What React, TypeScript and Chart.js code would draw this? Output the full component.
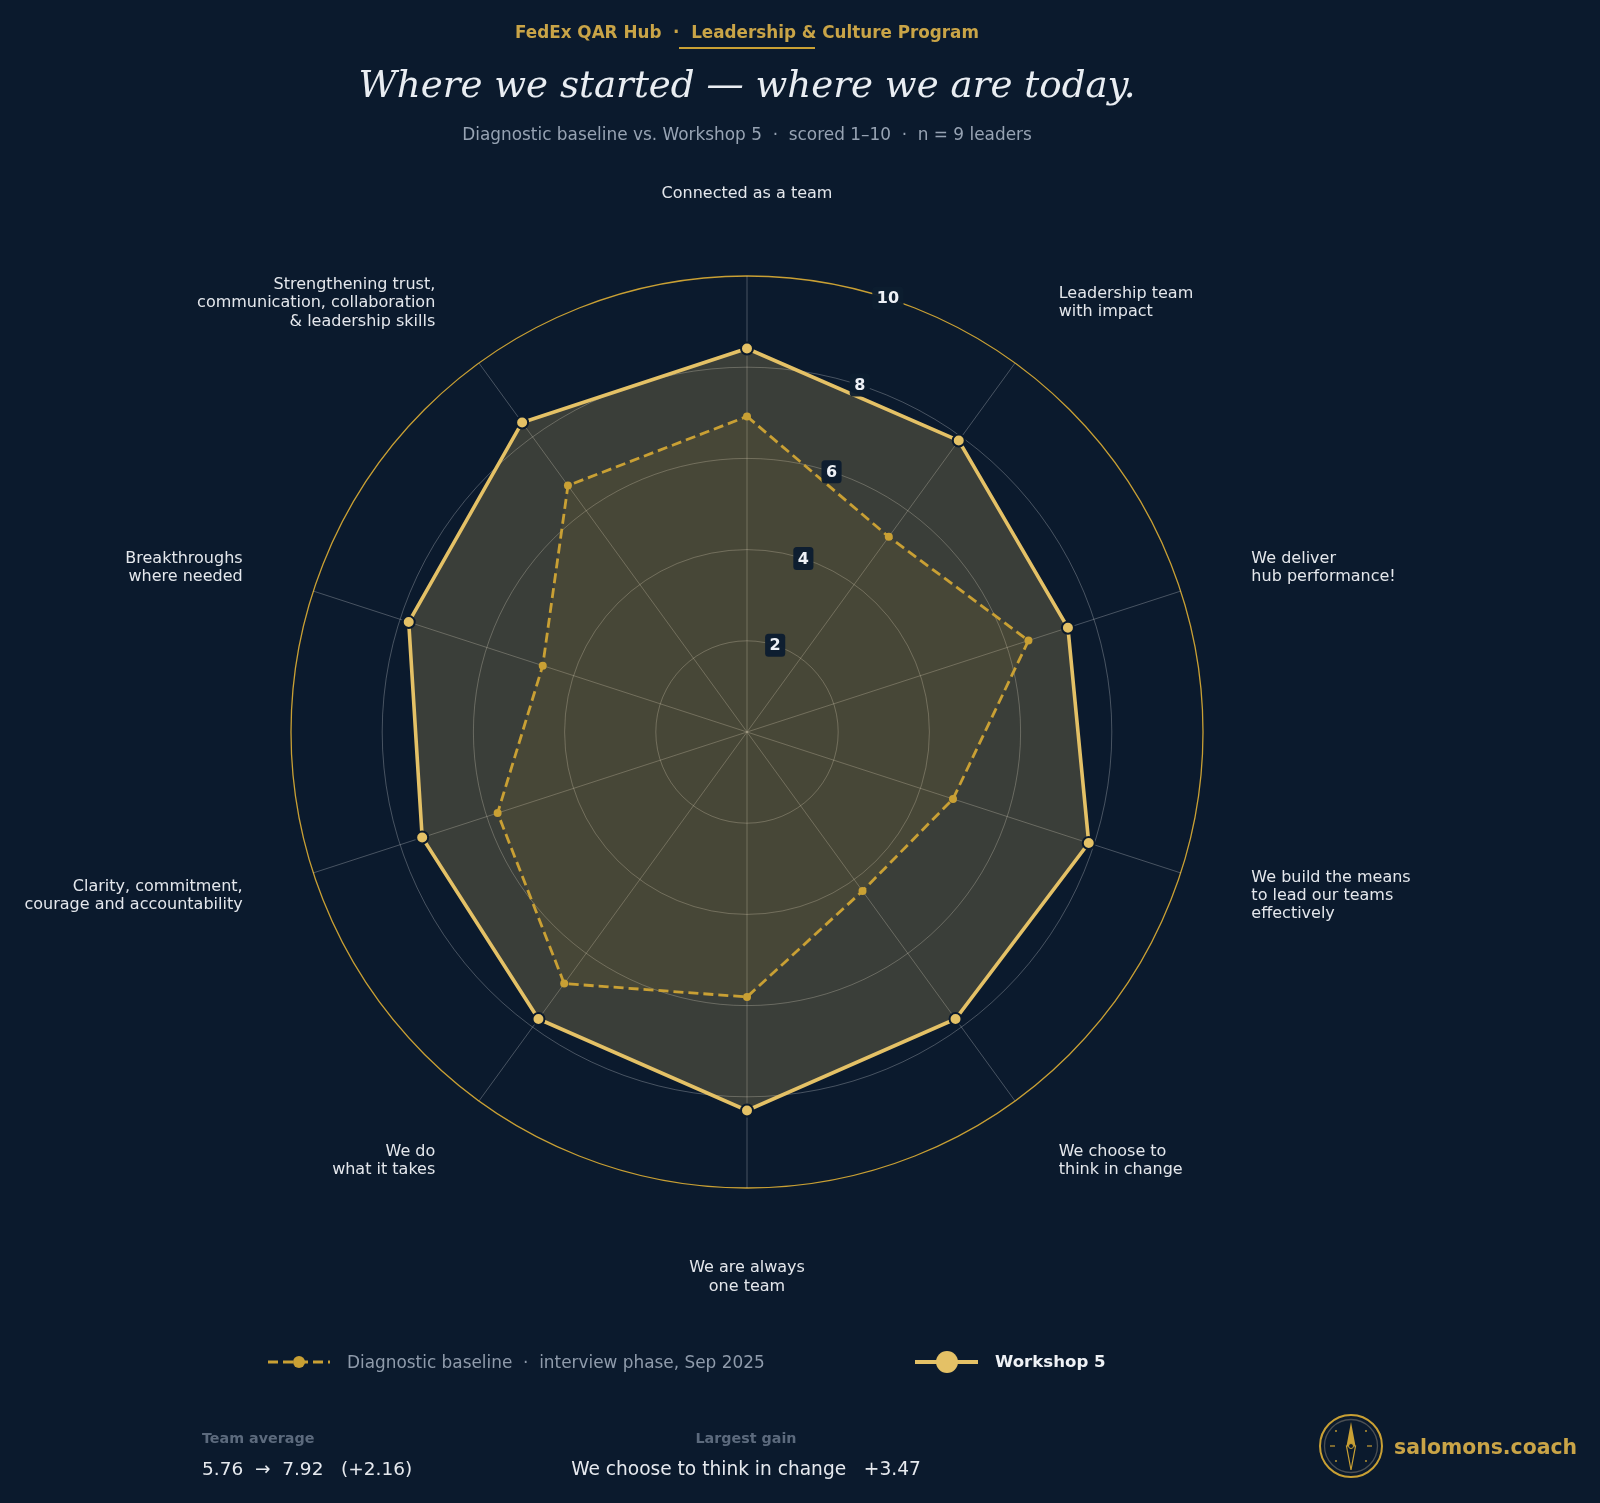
import React, { useEffect, useRef } from 'react';
import { Chart, registerables } from 'chart.js';

Chart.register(...registerables);

const BG = '#0b1a2d';
const GOLD = '#c9a034';
const GOLD_LIGHT = '#e4c166';
const FONT = '"DejaVu Sans", "Noto Sans", sans-serif';

const categories: (string | string[])[] = [
  'Connected as a team',
  ['Leadership team', 'with impact'],
  ['We deliver', 'hub performance!'],
  ['We build the means', 'to lead our teams', 'effectively'],
  ['We choose to', 'think in change'],
  ['We are always', 'one team'],
  ['We do', 'what it takes'],
  ['Clarity, commitment,', 'courage and accountability'],
  ['Breakthroughs', 'where needed'],
  ['Strengthening trust,', 'communication, collaboration', '& leadership skills'],
];

const baselineScores = [6.92, 5.29, 6.49, 4.75, 4.31, 5.81, 6.82, 5.75, 4.71, 6.68];
const workshopScores = [8.41, 7.9, 7.4, 7.88, 7.78, 8.3, 7.78, 7.49, 7.8, 8.39];
const tickValues = [2, 4, 6, 8, 10];

const seriesNames = ['Diagnostic baseline  ·  interview phase, Sep 2025', 'Workshop 5'];

const axisLabelPlugin = {
  id: 'axisLabelPlugin',
  afterDatasetsDraw(chart: any) {
    const scale = chart.scales.r;
    const ctx = chart.ctx as CanvasRenderingContext2D;
    const R = scale.drawingArea;
    const n = chart.data.labels.length;
    ctx.save();
    // tick labels with backdrops along the bisector of the first two axes
    ctx.font = 'bold 16px ' + FONT;
    ctx.textAlign = 'center';
    ctx.textBaseline = 'middle';
    const theta = Math.PI / n;
    tickValues.forEach((v) => {
      const d = scale.getDistanceFromCenterForValue(v);
      const x = scale.xCenter + d * Math.sin(theta);
      const y = scale.yCenter - d * Math.cos(theta);
      const txt = String(v);
      const w = ctx.measureText(txt).width + 9;
      const h = 23;
      ctx.fillStyle = 'rgba(13,29,48,0.96)';
      ctx.beginPath();
      (ctx as any).roundRect(x - w / 2, y - h / 2, w, h, 3.5);
      ctx.fill();
      ctx.fillStyle = '#eef1f6';
      ctx.fillText(txt, x, y + 1);
    });
    // category labels
    ctx.font = '16px ' + FONT;
    ctx.fillStyle = '#e4e7ec';
    ctx.textBaseline = 'middle';
    chart.data.labels.forEach((lab: any, i: number) => {
      const deg = (i * 360) / n;
      let dist = R * 1.163;
      if (deg === 0) dist = R * 1.18;
      if (deg === 180) dist = R * 1.196;
      const p = scale.getPointPosition(i, dist);
      const dx = p.x - scale.xCenter;
      ctx.textAlign = Math.abs(dx) < 1 ? 'center' : dx > 0 ? 'left' : 'right';
      const lines = Array.isArray(lab) ? lab : [lab];
      const lh = 18.4;
      lines.forEach((ln: string, k: number) => {
        ctx.fillText(ln, p.x, p.y + (k - (lines.length - 1) / 2) * lh);
      });
    });
    ctx.restore();
  },
};

function RadarChart() {
  const ref = useRef<HTMLCanvasElement | null>(null);
  useEffect(() => {
    if (!ref.current) return;
    const chart = new Chart(ref.current, {
      type: 'radar',
      data: {
        labels: categories as any,
        datasets: [
          {
            label: seriesNames[1],
            data: workshopScores,
            borderColor: GOLD_LIGHT,
            backgroundColor: 'rgba(228,193,100,0.22)',
            borderWidth: 3.6,
            pointRadius: 6,
            pointBackgroundColor: GOLD_LIGHT,
            pointBorderColor: BG,
            pointBorderWidth: 2,
            fill: true,
            tension: 0,
            order: 2,
          },
          {
            label: seriesNames[0],
            data: baselineScores,
            borderColor: GOLD,
            backgroundColor: 'rgba(201,160,52,0.10)',
            borderWidth: 2.8,
            borderDash: [10, 5],
            pointRadius: 4,
            pointBackgroundColor: GOLD,
            pointBorderColor: GOLD,
            pointBorderWidth: 0,
            fill: true,
            tension: 0,
            order: 1,
          },
        ],
      },
      options: {
        responsive: false,
        animation: false,
        layout: { padding: { left: 291, top: 276, right: 397, bottom: 315 } },
        plugins: {
          legend: { display: false },
          title: { display: false },
          tooltip: { enabled: false },
        },
        scales: {
          r: {
            min: 0,
            max: 10,
            startAngle: 0,
            ticks: { display: false, stepSize: 2 },
            pointLabels: { display: false },
            grid: {
              circular: true,
              color: (c: any) => (c.tick && c.tick.value === 10 ? GOLD : 'rgba(255,255,255,0.25)'),
              lineWidth: (c: any) => (c.tick && c.tick.value === 10 ? 1.3 : 1),
            },
            angleLines: { color: 'rgba(255,255,255,0.25)', lineWidth: 1 },
          },
        },
      } as any,
      plugins: [axisLabelPlugin],
    });
    return () => chart.destroy();
  }, []);
  return (
    <canvas
      ref={ref}
      width={1600}
      height={1503}
      style={{ position: 'absolute', left: 0, top: 0, width: 1600, height: 1503 }}
    />
  );
}

function T(props: { x: number; y: number; align?: 'left' | 'center' | 'right'; style?: any; children: any }) {
  const { x, y, align = 'left', style, children } = props;
  const w = 1000;
  const left = align === 'left' ? x : align === 'center' ? x - w / 2 : x - w;
  return (
    <div
      style={{
        position: 'absolute',
        left,
        top: y - 20,
        width: w,
        height: 40,
        lineHeight: '40px',
        textAlign: align,
        whiteSpace: 'pre',
        ...style,
      }}
    >
      {children}
    </div>
  );
}

function Compass() {
  const cx = 1351;
  const cy = 1446;
  return (
    <svg style={{ position: 'absolute', left: cx - 34, top: cy - 34 }} width={68} height={68} viewBox="-34 -34 68 68">
      <circle cx={0} cy={0} r={31} fill="none" stroke={GOLD} strokeWidth={2} />
      <circle cx={0} cy={0} r={26.5} fill="none" stroke="#4a4e52" strokeWidth={1.3} />
      <polygon points="0,-24 4.5,0 -4.5,0" fill={GOLD} />
      <polygon points="0,24 4.5,0 -4.5,0" fill="none" stroke={GOLD} strokeWidth={1.2} />
      <circle cx={0} cy={0} r={2.5} fill={BG} stroke={GOLD} strokeWidth={1} />
      <line x1={-21} y1={0} x2={-16} y2={0} stroke={GOLD} strokeWidth={1.2} />
      <line x1={16} y1={0} x2={21} y2={0} stroke={GOLD} strokeWidth={1.2} />
      <circle cx={-15} cy={-15} r={0.9} fill={GOLD} />
      <circle cx={15} cy={-15} r={0.9} fill={GOLD} />
      <circle cx={-15} cy={15} r={0.9} fill={GOLD} />
      <circle cx={15} cy={15} r={0.9} fill={GOLD} />
    </svg>
  );
}

export default function App() {
  return (
    <div
      style={{
        position: 'absolute',
        left: 0,
        top: 0,
        width: 1600,
        height: 1503,
        background: BG,
        overflow: 'hidden',
        fontFamily: FONT,
      }}
    >
      <RadarChart />
      <T x={747} y={32} align="center" style={{ color: '#c9a447', fontWeight: 'bold', fontSize: 16.8 }}>
        {'FedEx QAR Hub  ·  Leadership & Culture Program'}
      </T>
      <div style={{ position: 'absolute', left: 679, top: 47, width: 136, height: 1.5, background: GOLD }} />
      <T
        x={747}
        y={84}
        align="center"
        style={{ color: '#e9edf2', fontFamily: '"DejaVu Serif", serif', fontStyle: 'italic', fontSize: 37.2 }}
      >
        {'Where we started — where we are today.'}
      </T>
      <T x={747} y={134} align="center" style={{ color: '#97a3b3', fontSize: 16.9 }}>
        {'Diagnostic baseline vs. Workshop 5  ·  scored 1–10  ·  n = 9 leaders'}
      </T>

      {/* legend */}
      <svg style={{ position: 'absolute', left: 262, top: 1350 }} width={74} height={24}>
        <line x1={6} y1={12} x2={68} y2={12} stroke={GOLD} strokeWidth={2.8} strokeDasharray="10,5" />
        <circle cx={37} cy={12} r={6} fill={GOLD} />
      </svg>
      <T x={347} y={1362} style={{ color: '#8f9bab', fontSize: 16.9 }}>
        {seriesNames[0]}
      </T>
      <svg style={{ position: 'absolute', left: 910, top: 1348 }} width={74} height={28}>
        <line x1={5} y1={14} x2={68} y2={14} stroke={GOLD_LIGHT} strokeWidth={4} />
        <circle cx={37} cy={14} r={11} fill={GOLD_LIGHT} />
      </svg>
      <T x={995} y={1362} style={{ color: '#eef1f5', fontSize: 16.6, fontWeight: 'bold' }}>
        {seriesNames[1]}
      </T>

      {/* footer */}
      <T x={202} y={1438} style={{ color: '#5c6a7d', fontSize: 14.3, fontWeight: 'bold' }}>
        {'Team average'}
      </T>
      <T x={202} y={1469} style={{ color: '#e6e9ee', fontSize: 18.5 }}>
        {'5.76  →  7.92   (+2.16)'}
      </T>
      <T x={746} y={1438} align="center" style={{ color: '#5c6a7d', fontSize: 14.3, fontWeight: 'bold' }}>
        {'Largest gain'}
      </T>
      <T x={746} y={1469} align="center" style={{ color: '#e6e9ee', fontSize: 18.6 }}>
        {'We choose to think in change   +3.47'}
      </T>
      <Compass />
      <T x={1394} y={1447} style={{ color: '#c9a447', fontSize: 20.4, fontWeight: 'bold' }}>
        {'salomons.coach'}
      </T>
    </div>
  );
}
